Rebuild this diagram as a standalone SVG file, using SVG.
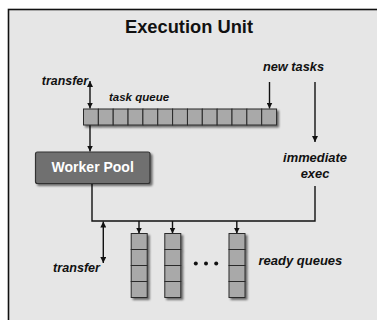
<svg xmlns="http://www.w3.org/2000/svg" width="377" height="320" viewBox="0 0 377 320">
<defs>
<marker id="ah" viewBox="0 0 10 10" refX="10" refY="5" markerWidth="6" markerHeight="6" markerUnits="userSpaceOnUse" orient="auto-start-reverse">
<path d="M0,0 L10,5 L0,10 z" fill="#111"/>
</marker>
<filter id="sh" x="-20%" y="-20%" width="150%" height="150%">
<feGaussianBlur in="SourceAlpha" stdDeviation="1"/>
<feOffset dx="2" dy="2" result="b"/>
<feComponentTransfer><feFuncA type="linear" slope="0.55"/></feComponentTransfer>
<feMerge><feMergeNode/><feMergeNode in="SourceGraphic"/></feMerge>
</filter>
</defs>
<style>
.lbl{font-family:"Liberation Sans",Arial,sans-serif;font-weight:bold;font-style:italic;fill:#111}
.cell{fill:#a9a9a9;stroke:#2a2a2a;stroke-width:1}
.ln{stroke:#111;stroke-width:1.4;fill:none}
</style>
<rect x="0" y="0" width="377" height="320" fill="#fff"/>
<rect x="8.5" y="9.5" width="380" height="320" fill="#e6e6e6" stroke="#111" stroke-width="1.6"/>
<text x="189" y="33" text-anchor="middle" font-family="Liberation Sans, Arial, sans-serif" font-weight="bold" font-size="18.3" fill="#111">Execution Unit</text>

<g id="connectors">
<line class="ln" x1="90" y1="81" x2="90" y2="108.5" marker-start="url(#ah)" marker-end="url(#ah)"/>
<line class="ln" x1="269.5" y1="82" x2="269.5" y2="108.5" marker-end="url(#ah)"/>
<line class="ln" x1="315" y1="82" x2="315" y2="142" marker-end="url(#ah)"/>
<line class="ln" x1="90" y1="125" x2="90" y2="151.5" marker-end="url(#ah)"/>
<polyline class="ln" points="92,184 92,221 315,221 315,186"/>
<line class="ln" x1="103.3" y1="221.5" x2="103.3" y2="263" marker-start="url(#ah)" marker-end="url(#ah)"/>
<line class="ln" x1="139" y1="221" x2="139" y2="233.5" marker-end="url(#ah)"/>
<line class="ln" x1="172.5" y1="221" x2="172.5" y2="233.5" marker-end="url(#ah)"/>
<line class="ln" x1="236.8" y1="221" x2="236.8" y2="233.5" marker-end="url(#ah)"/>
</g>

<g id="task-queue">
<g filter="url(#sh)">
<rect class="cell" x="83.5" y="109" width="14.85" height="16"/>
<rect class="cell" x="98.35" y="109" width="14.85" height="16"/>
<rect class="cell" x="113.2" y="109" width="14.85" height="16"/>
<rect class="cell" x="128.05" y="109" width="14.85" height="16"/>
<rect class="cell" x="142.9" y="109" width="14.85" height="16"/>
<rect class="cell" x="157.75" y="109" width="14.85" height="16"/>
<rect class="cell" x="172.6" y="109" width="14.85" height="16"/>
<rect class="cell" x="187.45" y="109" width="14.85" height="16"/>
<rect class="cell" x="202.3" y="109" width="14.85" height="16"/>
<rect class="cell" x="217.15" y="109" width="14.85" height="16"/>
<rect class="cell" x="232" y="109" width="14.85" height="16"/>
<rect class="cell" x="246.85" y="109" width="14.85" height="16"/>
<rect class="cell" x="261.7" y="109" width="14.85" height="16"/>
</g>
<text class="lbl" x="109" y="101" font-size="11.5">task queue</text>
</g>

<g id="worker-pool">
<rect x="35.5" y="152" width="114.5" height="31.5" rx="2" fill="#707070" stroke="#333" stroke-width="1.2" filter="url(#sh)"/>
<text x="92.7" y="172" text-anchor="middle" font-family="Liberation Sans, Arial, sans-serif" font-weight="bold" font-size="14" fill="#fff">Worker Pool</text>
</g>

<g id="labels">
<text class="lbl" x="88" y="85" text-anchor="end" font-size="12.4">transfer</text>
<text class="lbl" x="293.5" y="71" text-anchor="middle" font-size="12.8">new tasks</text>
<text class="lbl" x="315" y="161.5" text-anchor="middle" font-size="12.9">immediate</text>
<text class="lbl" x="315" y="178" text-anchor="middle" font-size="12.9">exec</text>
<text class="lbl" x="100" y="271.5" text-anchor="end" font-size="12.6">transfer</text>
<text class="lbl" x="258.5" y="265" font-size="13">ready queues</text>
</g>

<g id="ready-queue-1" filter="url(#sh)">
<rect class="cell" x="131.2" y="233.5" width="16" height="16"/>
<rect class="cell" x="131.2" y="249.5" width="16" height="16"/>
<rect class="cell" x="131.2" y="265.5" width="16" height="16"/>
<rect class="cell" x="131.2" y="281.5" width="16" height="16"/>
</g>
<g id="ready-queue-2" filter="url(#sh)">
<rect class="cell" x="164.8" y="233.5" width="16" height="16"/>
<rect class="cell" x="164.8" y="249.5" width="16" height="16"/>
<rect class="cell" x="164.8" y="265.5" width="16" height="16"/>
<rect class="cell" x="164.8" y="281.5" width="16" height="16"/>
</g>
<g id="ready-queue-3" filter="url(#sh)">
<rect class="cell" x="229" y="233.5" width="16" height="16"/>
<rect class="cell" x="229" y="249.5" width="16" height="16"/>
<rect class="cell" x="229" y="265.5" width="16" height="16"/>
<rect class="cell" x="229" y="281.5" width="16" height="16"/>
</g>
<g id="ellipsis" fill="#111">
<circle cx="195.8" cy="263.5" r="2"/>
<circle cx="206" cy="263.5" r="2"/>
<circle cx="216.2" cy="263.5" r="2"/>
</g>
</svg>
